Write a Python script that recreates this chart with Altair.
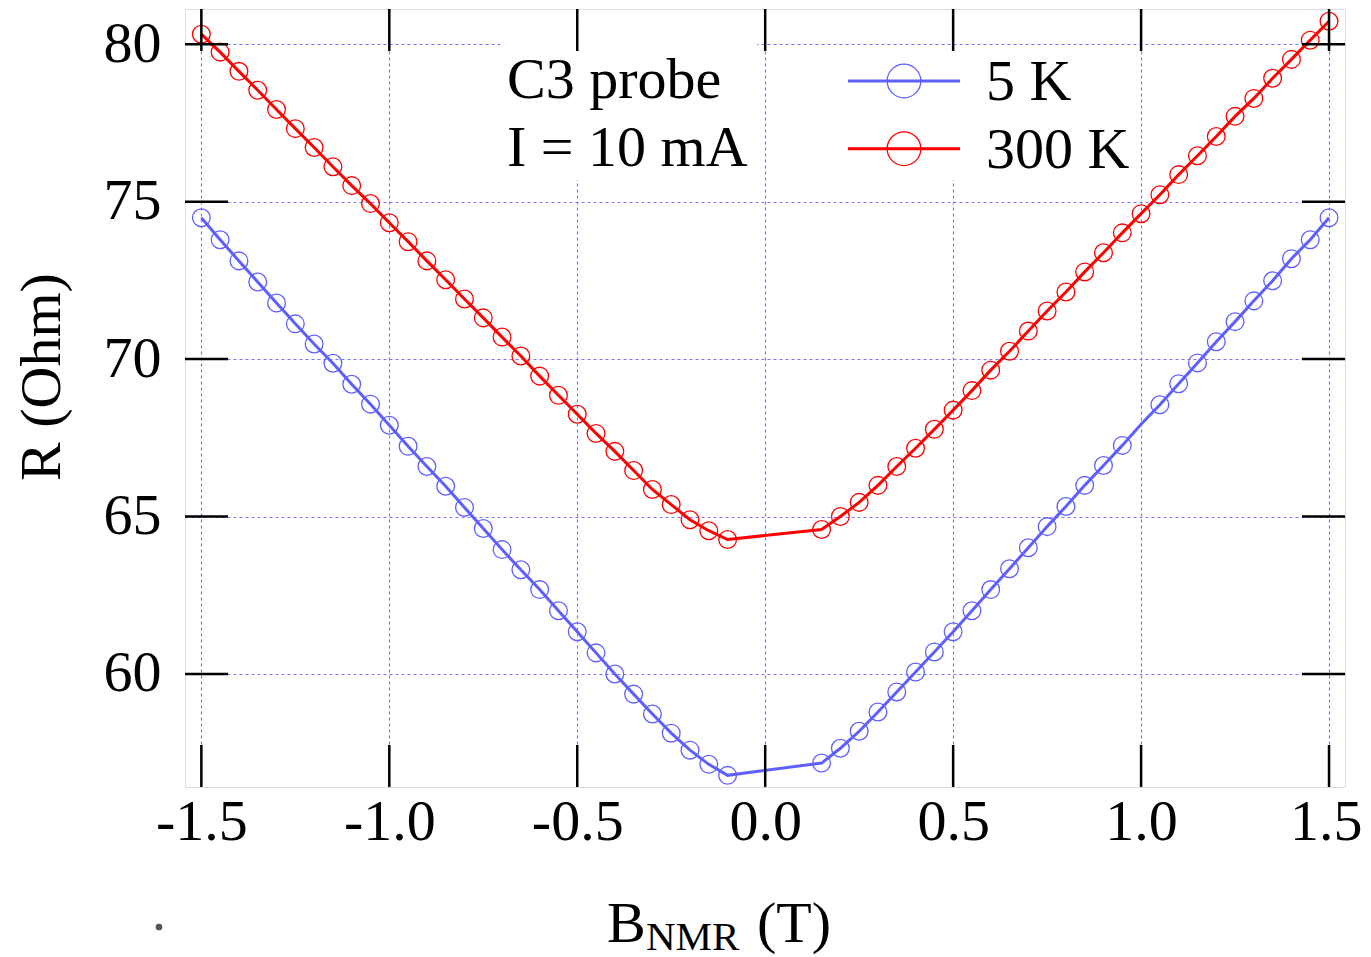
import altair as alt
import pandas as pd

# ---------------- data ----------------
b_field = [-1.50, -1.45, -1.40, -1.35, -1.30, -1.25, -1.20, -1.15, -1.10, -1.05,
           -1.00, -0.95, -0.90, -0.85, -0.80, -0.75, -0.70, -0.65, -0.60, -0.55,
           -0.50, -0.45, -0.40, -0.35, -0.30, -0.25, -0.20, -0.15, -0.10,
           0.15, 0.20, 0.25, 0.30, 0.35, 0.40, 0.45, 0.50, 0.55, 0.60,
           0.65, 0.70, 0.75, 0.80, 0.85, 0.90, 0.95, 1.00, 1.05, 1.10,
           1.15, 1.20, 1.25, 1.30, 1.35, 1.40, 1.45, 1.50]

r_5K = [74.49, 73.79, 73.12, 72.45, 71.78, 71.12, 70.48, 69.87, 69.20, 68.57,
        67.90, 67.23, 66.59, 65.96, 65.29, 64.62, 63.95, 63.31, 62.68, 62.01,
        61.34, 60.67, 60.00, 59.36, 58.73, 58.12, 57.58, 57.13, 56.78,
        57.17, 57.64, 58.18, 58.79, 59.43, 60.06, 60.70, 61.34, 62.01, 62.68,
        63.34, 64.01, 64.68, 65.32, 65.99, 66.62, 67.26, 67.93, 68.55, 69.22,
        69.88, 70.55, 71.19, 71.85, 72.49, 73.19, 73.79, 74.49]

r_300K = [80.32, 79.75, 79.14, 78.54, 77.93, 77.32, 76.72, 76.11, 75.51, 74.94,
          74.33, 73.73, 73.12, 72.52, 71.91, 71.31, 70.70, 70.10, 69.46, 68.85,
          68.25, 67.64, 67.07, 66.46, 65.86, 65.38, 64.90, 64.55, 64.27,
          64.59, 65.00, 65.45, 65.99, 66.59, 67.17, 67.77, 68.38, 69.00, 69.65,
          70.25, 70.89, 71.53, 72.13, 72.77, 73.38, 74.01, 74.62, 75.22, 75.86,
          76.46, 77.07, 77.71, 78.28, 78.92, 79.52, 80.13, 80.73]

series_names = ["5 K", "300 K"]
series_colors = ["#5f5fff", "#ff0000"]
hidden_markers = [("5 K", 1.00)]  # vertex drawn without a circle

x_ticks = [-1.5, -1.0, -0.5, 0.0, 0.5, 1.0, 1.5]
y_ticks = [60, 65, 70, 75, 80]

label_lines = ["C3 probe", "I = 10 mA"]

# ---------------- tables ----------------
rows = []
for name, vals in zip(series_names, [r_5K, r_300K]):
    for b, r in zip(b_field, vals):
        rows.append({"B": b, "R": r, "series": name,
                     "marker": (name, b) not in hidden_markers})
df = pd.DataFrame(rows)
df_pts = df[df["marker"]]

FONT = "Liberation Serif"
FS = 58
W, H = 1160, 778

xscale = alt.Scale(domain=[-1.5435, 1.5425], nice=False, zero=False)
yscale = alt.Scale(domain=[56.41, 81.12], nice=False, zero=False)
cscale = alt.Scale(domain=series_names, range=series_colors)

GRID = dict(grid=True, gridDash=[3, 3], gridColor="#7878ff", gridWidth=1.2, gridOpacity=1)

xaxis = alt.Axis(values=x_ticks, ticks=False, domain=False, title=None,
                 labelFont=FONT, labelFontSize=FS, labelColor="black",
                 labelPadding=6, labelFlush=False,
                 labelAlign={"condition": {"test": "datum.value > 1.4", "value": "right"},
                             "value": "center"},
                 labelOffset={"condition": {"test": "datum.value > 1.4", "value": 33},
                              "value": 0},
                 labelExpr="(datum.value < 0 ? '-' : '') + format(abs(datum.value), '.1f')",
                 **GRID)
yaxis = alt.Axis(values=y_ticks, ticks=False, domain=False, title=None,
                 labelFont=FONT, labelFontSize=FS, labelColor="black",
                 labelPadding=24, labelFlush=False, **GRID)

lines = alt.Chart(df).mark_line(strokeWidth=3, clip=True).encode(
    x=alt.X("B:Q", scale=xscale, axis=xaxis),
    y=alt.Y("R:Q", scale=yscale, axis=yaxis),
    color=alt.Color("series:N", scale=cscale, legend=None),
    detail="series:N",
)

points = alt.Chart(df_pts).mark_point(shape="circle", filled=False, size=314,
                                      strokeWidth=1.3, opacity=1, clip=True).encode(
    x=alt.X("B:Q", scale=xscale),
    y=alt.Y("R:Q", scale=yscale),
    color=alt.Color("series:N", scale=cscale, legend=None),
)

# white boxes behind label and key (they hide the grid)
boxes_df = pd.DataFrame({"x": [318, 615], "x2": [572, 945], "y": [31, 38], "y2": [171, 171]})
boxes = alt.Chart(boxes_df).mark_rect(color="white").encode(
    x=alt.X("x:Q", scale=None), x2="x2:Q",
    y=alt.Y("y:Q", scale=None), y2="y2:Q",
)

# ticks (inward, mirrored)
xt = pd.DataFrame({"v": x_ticks})
yt = pd.DataFrame({"v": y_ticks})
TL = 42
tick_style = dict(color="black", strokeWidth=2.5)
t_bottom = alt.Chart(xt).mark_rule(**tick_style).encode(
    x=alt.X("v:Q", scale=xscale), y=alt.value(H), y2=alt.value(H - TL))
t_top = alt.Chart(xt).mark_rule(**tick_style).encode(
    x=alt.X("v:Q", scale=xscale), y=alt.value(0), y2=alt.value(TL))
t_left = alt.Chart(yt).mark_rule(**tick_style).encode(
    y=alt.Y("v:Q", scale=yscale), x=alt.value(0), x2=alt.value(TL + 1))
t_right = alt.Chart(yt).mark_rule(**tick_style).encode(
    y=alt.Y("v:Q", scale=yscale), x=alt.value(W), x2=alt.value(W - TL - 1))

# label text
lab_df = pd.DataFrame({"t": label_lines, "py": [89, 157]})
label = alt.Chart(lab_df).mark_text(font=FONT, fontSize=FS, align="left",
                                    baseline="alphabetic", color="black").encode(
    x=alt.value(322), y=alt.Y("py:Q", scale=None), text="t:N")

# key
key_df = pd.DataFrame({"series": series_names, "py": [72, 139.7], "ty": [91, 158.7]})
key_lines = alt.Chart(key_df).mark_rule(strokeWidth=3).encode(
    x=alt.value(663), x2=alt.value(775), y=alt.Y("py:Q", scale=None),
    color=alt.Color("series:N", scale=cscale, legend=None))
key_pts = alt.Chart(key_df).mark_point(shape="circle", filled=False, size=1134,
                                       strokeWidth=1.3, opacity=1).encode(
    x=alt.value(719), y=alt.Y("py:Q", scale=None),
    color=alt.Color("series:N", scale=cscale, legend=None))
key_txt = alt.Chart(key_df).mark_text(font=FONT, fontSize=FS, align="left",
                                      baseline="alphabetic", color="black").encode(
    x=alt.value(801), y=alt.Y("ty:Q", scale=None), text="series:N")

# axis titles
ytitle = alt.Chart(pd.DataFrame({"t": ["R (Ohm)"]})).mark_text(
    font=FONT, fontSize=FS, angle=270, align="center", baseline="alphabetic",
    color="black").encode(x=alt.value(-125), y=alt.value(368), text="t:N")

xt_df = pd.DataFrame({"t": ["B", "NMR", "(T)"], "px": [422, 461, 572],
                      "py": [933, 941, 933], "fs": [FS, 41, FS]})
xtitle = alt.Chart(xt_df).mark_text(font=FONT, align="left", baseline="alphabetic",
                                    color="black").encode(
    x=alt.X("px:Q", scale=None), y=alt.Y("py:Q", scale=None), text="t:N",
    size=alt.Size("fs:Q", scale=None, legend=None))

dot = alt.Chart(pd.DataFrame({"k": [0]})).mark_circle(size=45, color="#555555", opacity=1).encode(
    x=alt.value(-26), y=alt.value(918))

chart = alt.layer(
    lines, boxes, points, t_bottom, t_top, t_left, t_right,
    label, key_lines, key_pts, key_txt, ytitle, xtitle, dot
).properties(
    width=W, height=H,
    padding={"left": 177, "top": 1, "right": 18, "bottom": 175},
    autosize=alt.AutoSizeParams(type="none"),
).configure_view(stroke="black", strokeWidth=2.5).configure(background="white")

chart.save("out.html", embed_options={"renderer": "svg", "actions": False})
